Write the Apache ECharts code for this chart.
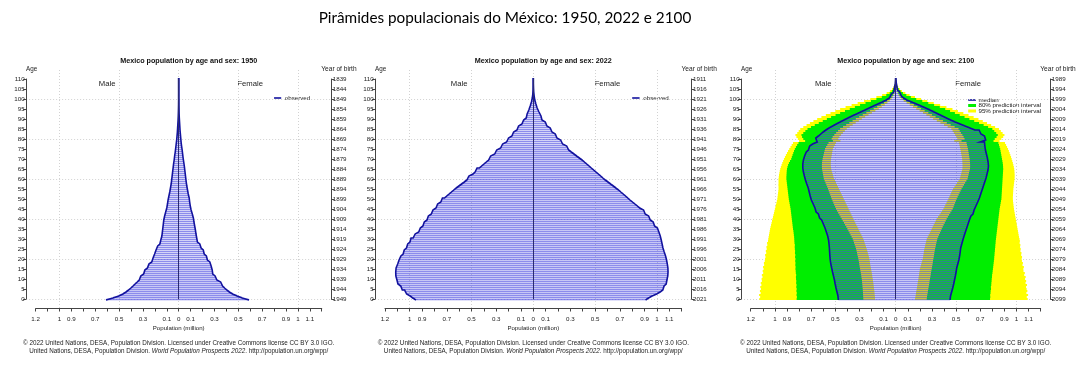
<!DOCTYPE html>
<html><head><meta charset="utf-8">
<script src="https://cdn.jsdelivr.net/npm/echarts@6/dist/echarts.min.js"></script>
<style>html,body{margin:0;padding:0;background:#fff}#c{width:1078px;height:367px}</style>
</head><body><div id="c"></div>
<script>
// ---------------- DATA (population in millions, ages 0..110) ----------------
const panelYears = [1950, 2022, 2100];
const xTickLabelTenths = [-12,-10,-9,-7,-5,-3,-1,0,1,3,5,7,9,10,11];

const male1950 = [
0.610,0.552,0.503,0.468,0.442,0.420,0.401,0.383,0.366,0.348,
0.331,0.318,0.305,0.294,0.284,0.274,0.262,0.250,0.238,0.226,
0.215,0.208,0.202,0.196,0.190,0.184,0.176,0.167,0.158,0.150,
0.144,0.141,0.139,0.137,0.135,0.133,0.131,0.129,0.127,0.125,
0.122,0.118,0.114,0.109,0.104,0.100,0.097,0.094,0.091,0.089,
0.086,0.082,0.078,0.075,0.072,0.069,0.066,0.063,0.061,0.059,
0.057,0.055,0.053,0.051,0.049,0.047,0.045,0.043,0.041,0.038,
0.036,0.034,0.032,0.029,0.027,0.025,0.023,0.021,0.019,0.017,
0.016,0.014,0.013,0.011,0.010,0.009,0.008,0.007,0.006,0.005,
0.004,0.0035,0.003,0.0025,0.002,0.0016,0.0013,0.001,0.0008,0.0006,
0.0005,0.0004,0.0003,0.0002,0.00015,0.0001,0.0001,0.00006,0.00004,0.00003,0.00002];
const female1950 = [
0.590,0.533,0.490,0.452,0.425,0.403,0.385,0.368,0.352,0.336,
0.320,0.305,0.293,0.286,0.281,0.277,0.272,0.267,0.261,0.251,
0.241,0.232,0.223,0.214,0.206,0.198,0.188,0.177,0.166,0.157,
0.151,0.148,0.145,0.142,0.140,0.137,0.134,0.131,0.128,0.126,
0.123,0.119,0.114,0.109,0.104,0.100,0.097,0.095,0.092,0.090,
0.088,0.084,0.080,0.077,0.074,0.071,0.068,0.065,0.063,0.061,
0.059,0.057,0.055,0.053,0.051,0.049,0.047,0.045,0.042,0.040,
0.037,0.035,0.033,0.031,0.029,0.026,0.024,0.022,0.020,0.018,
0.017,0.015,0.014,0.012,0.011,0.010,0.009,0.008,0.007,0.006,
0.005,0.0042,0.0035,0.003,0.0025,0.002,0.0016,0.0013,0.001,0.0008,
0.0006,0.0005,0.0004,0.0003,0.0002,0.00015,0.0001,0.00008,0.00006,0.00004,0.00003];

const male2022 = [
0.949,0.975,0.996,1.025,1.041,1.060,1.072,1.084,1.095,1.103,
1.109,1.112,1.114,1.113,1.112,1.110,1.104,1.097,1.091,1.086,
1.080,1.071,1.062,1.053,1.044,1.035,1.026,1.016,1.006,0.998,
0.989,0.972,0.956,0.940,0.927,0.914,0.903,0.893,0.882,0.871,
0.860,0.849,0.837,0.825,0.812,0.800,0.787,0.774,0.761,0.748,
0.735,0.718,0.700,0.681,0.662,0.643,0.623,0.602,0.580,0.558,
0.537,0.521,0.505,0.488,0.471,0.455,0.436,0.418,0.399,0.380,
0.361,0.345,0.329,0.312,0.296,0.280,0.264,0.248,0.232,0.216,
0.200,0.186,0.173,0.159,0.146,0.132,0.119,0.105,0.092,0.078,
0.065,0.057,0.050,0.043,0.036,0.030,0.025,0.020,0.015,0.011,
0.008,0.006,0.004,0.003,0.002,0.0015,0.001,0.0007,0.0005,0.0003,0.0002];
const female2022 = [
0.908,0.932,0.961,0.998,1.026,1.048,1.058,1.067,1.075,1.081,
1.086,1.088,1.090,1.090,1.089,1.089,1.087,1.084,1.081,1.078,
1.075,1.070,1.064,1.059,1.054,1.049,1.045,1.042,1.038,1.035,
1.032,1.027,1.021,1.016,1.010,1.004,0.993,0.981,0.970,0.958,
0.946,0.933,0.919,0.905,0.892,0.879,0.861,0.842,0.822,0.802,
0.782,0.764,0.746,0.727,0.708,0.690,0.668,0.647,0.625,0.604,
0.582,0.563,0.545,0.526,0.507,0.488,0.469,0.451,0.432,0.413,
0.394,0.372,0.350,0.329,0.307,0.286,0.270,0.254,0.237,0.221,
0.205,0.191,0.178,0.164,0.151,0.137,0.124,0.110,0.097,0.083,
0.070,0.062,0.054,0.046,0.038,0.031,0.026,0.021,0.016,0.012,
0.009,0.007,0.005,0.0035,0.0025,0.0018,0.0012,0.0008,0.0005,0.0003,0.0002];

const male2100 = [
0.475,0.478,0.482,0.486,0.490,0.494,0.497,0.501,0.504,0.507,
0.511,0.515,0.519,0.523,0.527,0.530,0.533,0.537,0.540,0.542,
0.544,0.545,0.546,0.547,0.548,0.549,0.550,0.552,0.554,0.556,
0.558,0.563,0.568,0.574,0.579,0.585,0.592,0.599,0.606,0.613,
0.620,0.630,0.640,0.649,0.659,0.668,0.676,0.683,0.691,0.698,
0.704,0.708,0.712,0.716,0.720,0.724,0.730,0.736,0.742,0.747,
0.752,0.756,0.760,0.764,0.767,0.769,0.770,0.769,0.767,0.764,
0.760,0.754,0.748,0.740,0.732,0.723,0.712,0.700,0.688,0.650,
0.662,0.655,0.640,0.620,0.600,0.578,0.552,0.522,0.492,0.460,
0.428,0.395,0.362,0.325,0.290,0.254,0.220,0.185,0.148,0.112,
0.078,0.052,0.036,0.025,0.016,0.011,0.007,0.004,0.0025,0.0015,0.001];
const male2100Lo80 = [
0.268,0.269,0.270,0.271,0.272,0.273,0.275,0.276,0.278,0.279,
0.281,0.284,0.286,0.289,0.292,0.295,0.298,0.301,0.303,0.306,
0.309,0.313,0.317,0.320,0.324,0.328,0.333,0.339,0.345,0.350,
0.356,0.365,0.374,0.382,0.391,0.400,0.409,0.419,0.428,0.438,
0.447,0.457,0.466,0.476,0.485,0.494,0.501,0.509,0.516,0.523,
0.530,0.536,0.542,0.548,0.554,0.560,0.567,0.574,0.581,0.588,
0.595,0.598,0.601,0.604,0.607,0.610,0.611,0.611,0.610,0.608,
0.605,0.601,0.597,0.593,0.589,0.585,0.576,0.566,0.556,0.520,
0.530,0.522,0.508,0.493,0.477,0.460,0.436,0.410,0.384,0.357,
0.330,0.302,0.273,0.243,0.212,0.182,0.153,0.124,0.096,0.072,
0.050,0.034,0.023,0.016,0.010,0.007,0.004,0.0025,0.0015,0.001,0.0006];
const male2100Lo95 = [
0.171,0.172,0.174,0.175,0.177,0.179,0.181,0.183,0.185,0.188,
0.190,0.193,0.195,0.198,0.201,0.204,0.207,0.210,0.213,0.215,
0.218,0.222,0.226,0.231,0.235,0.240,0.246,0.251,0.257,0.262,
0.268,0.276,0.284,0.293,0.301,0.309,0.317,0.326,0.334,0.342,
0.350,0.358,0.366,0.374,0.382,0.390,0.398,0.406,0.414,0.422,
0.430,0.438,0.446,0.454,0.462,0.470,0.478,0.486,0.494,0.502,
0.510,0.515,0.520,0.525,0.530,0.534,0.536,0.537,0.537,0.536,
0.535,0.532,0.529,0.526,0.523,0.520,0.512,0.503,0.494,0.458,
0.475,0.466,0.452,0.437,0.421,0.405,0.381,0.356,0.331,0.305,
0.280,0.253,0.225,0.197,0.168,0.140,0.115,0.090,0.068,0.050,
0.035,0.024,0.016,0.011,0.007,0.005,0.003,0.002,0.0012,0.0008,0.0004];
const male2100Hi80 = [
0.820,0.818,0.821,0.819,0.822,0.820,0.823,0.821,0.824,0.823,
0.825,0.826,0.824,0.827,0.828,0.830,0.829,0.831,0.830,0.832,
0.830,0.833,0.831,0.834,0.833,0.835,0.836,0.835,0.838,0.839,
0.840,0.841,0.843,0.845,0.847,0.850,0.852,0.854,0.856,0.858,
0.860,0.862,0.864,0.866,0.868,0.870,0.873,0.876,0.879,0.882,
0.885,0.887,0.889,0.891,0.893,0.895,0.897,0.899,0.901,0.903,
0.905,0.905,0.904,0.903,0.902,0.900,0.896,0.891,0.884,0.875,
0.865,0.860,0.854,0.848,0.842,0.835,0.826,0.816,0.805,0.750,
0.765,0.775,0.780,0.765,0.748,0.730,0.701,0.670,0.637,0.604,
0.570,0.535,0.498,0.460,0.420,0.380,0.338,0.295,0.250,0.205,
0.160,0.115,0.078,0.050,0.032,0.020,0.012,0.007,0.004,0.0025,0.0015];
const male2100Hi95 = [
1.129,1.122,1.131,1.118,1.124,1.116,1.121,1.112,1.117,1.108,
1.110,1.103,1.108,1.097,1.101,1.094,1.098,1.089,1.091,1.084,
1.082,1.078,1.081,1.072,1.075,1.068,1.070,1.063,1.065,1.057,
1.055,1.052,1.049,1.046,1.043,1.040,1.036,1.032,1.028,1.024,
1.020,1.016,1.012,1.008,1.004,1.000,0.996,0.992,0.988,0.984,
0.980,0.978,0.976,0.974,0.972,0.970,0.970,0.971,0.970,0.970,
0.970,0.968,0.966,0.963,0.960,0.956,0.951,0.945,0.939,0.932,
0.925,0.917,0.909,0.900,0.891,0.881,0.871,0.861,0.850,0.800,
0.810,0.822,0.830,0.815,0.803,0.790,0.765,0.738,0.710,0.681,
0.650,0.615,0.578,0.540,0.500,0.460,0.415,0.365,0.315,0.262,
0.210,0.160,0.112,0.075,0.048,0.030,0.018,0.010,0.006,0.004,0.003];

const female2100 = [
0.450,0.454,0.459,0.463,0.468,0.472,0.476,0.480,0.484,0.487,
0.491,0.494,0.497,0.500,0.502,0.505,0.509,0.514,0.518,0.523,
0.527,0.529,0.531,0.534,0.536,0.538,0.542,0.547,0.551,0.556,
0.560,0.566,0.571,0.577,0.582,0.588,0.593,0.599,0.604,0.610,
0.615,0.623,0.632,0.640,0.649,0.657,0.664,0.672,0.679,0.686,
0.693,0.698,0.704,0.709,0.715,0.720,0.726,0.731,0.737,0.742,
0.748,0.752,0.756,0.760,0.764,0.767,0.768,0.767,0.765,0.762,
0.759,0.755,0.751,0.747,0.743,0.740,0.738,0.737,0.735,0.700,
0.745,0.735,0.722,0.706,0.690,0.655,0.615,0.574,0.533,0.492,
0.455,0.420,0.386,0.352,0.318,0.284,0.248,0.210,0.172,0.132,
0.092,0.066,0.047,0.033,0.022,0.015,0.009,0.006,0.004,0.0025,0.0015];
const female2100Lo80 = [
0.257,0.259,0.262,0.265,0.267,0.270,0.273,0.276,0.279,0.281,
0.284,0.287,0.290,0.292,0.295,0.298,0.301,0.304,0.307,0.309,
0.312,0.315,0.318,0.320,0.323,0.326,0.330,0.333,0.337,0.341,
0.345,0.352,0.359,0.367,0.374,0.381,0.389,0.397,0.406,0.414,
0.422,0.432,0.442,0.452,0.462,0.472,0.479,0.485,0.492,0.498,
0.505,0.513,0.521,0.529,0.537,0.545,0.555,0.565,0.575,0.585,
0.595,0.599,0.603,0.607,0.611,0.615,0.616,0.616,0.615,0.614,
0.612,0.609,0.606,0.604,0.601,0.598,0.594,0.590,0.586,0.545,
0.570,0.562,0.552,0.540,0.530,0.520,0.488,0.455,0.423,0.391,
0.360,0.330,0.300,0.270,0.240,0.210,0.180,0.150,0.118,0.088,
0.060,0.043,0.030,0.021,0.014,0.009,0.006,0.004,0.0025,0.0015,0.001];
const female2100Lo95 = [
0.160,0.163,0.166,0.168,0.171,0.174,0.177,0.180,0.182,0.185,
0.188,0.190,0.193,0.195,0.198,0.200,0.205,0.210,0.214,0.219,
0.224,0.227,0.229,0.232,0.234,0.237,0.241,0.245,0.249,0.253,
0.257,0.265,0.273,0.282,0.290,0.298,0.306,0.314,0.323,0.331,
0.339,0.350,0.362,0.373,0.384,0.395,0.403,0.411,0.420,0.428,
0.436,0.444,0.452,0.459,0.467,0.475,0.486,0.497,0.508,0.519,
0.530,0.535,0.539,0.544,0.548,0.552,0.553,0.553,0.552,0.551,
0.550,0.547,0.544,0.541,0.538,0.535,0.531,0.527,0.523,0.485,
0.510,0.502,0.492,0.481,0.471,0.460,0.430,0.400,0.370,0.340,
0.310,0.282,0.254,0.226,0.198,0.170,0.143,0.116,0.090,0.066,
0.045,0.032,0.022,0.015,0.010,0.007,0.004,0.003,0.002,0.0012,0.0008];
const female2100Hi80 = [
0.781,0.783,0.782,0.785,0.786,0.789,0.788,0.791,0.792,0.794,
0.795,0.797,0.798,0.801,0.803,0.805,0.807,0.809,0.811,0.813,
0.815,0.816,0.818,0.819,0.821,0.822,0.824,0.825,0.827,0.828,
0.830,0.832,0.834,0.836,0.838,0.840,0.842,0.844,0.846,0.848,
0.850,0.852,0.854,0.856,0.858,0.860,0.863,0.866,0.869,0.872,
0.875,0.876,0.877,0.878,0.879,0.880,0.881,0.882,0.883,0.884,
0.885,0.886,0.887,0.888,0.889,0.890,0.889,0.888,0.886,0.883,
0.880,0.877,0.874,0.871,0.868,0.865,0.860,0.855,0.850,0.810,
0.820,0.835,0.845,0.832,0.816,0.800,0.765,0.728,0.690,0.650,
0.610,0.570,0.530,0.490,0.450,0.410,0.365,0.318,0.270,0.220,
0.170,0.125,0.088,0.060,0.040,0.025,0.015,0.009,0.005,0.003,0.002];
const female2100Hi95 = [
1.093,1.085,1.096,1.082,1.090,1.084,1.079,1.087,1.075,1.080,
1.071,1.076,1.064,1.069,1.058,1.057,1.061,1.050,1.053,1.045,
1.043,1.046,1.039,1.041,1.033,1.035,1.030,1.032,1.026,1.028,
1.025,1.021,1.018,1.015,1.012,1.009,1.006,1.003,1.000,0.997,
0.994,0.991,0.988,0.985,0.982,0.979,0.977,0.975,0.973,0.971,
0.970,0.970,0.971,0.972,0.973,0.974,0.976,0.978,0.980,0.982,
0.984,0.985,0.985,0.984,0.983,0.981,0.978,0.974,0.970,0.965,
0.960,0.955,0.949,0.943,0.937,0.930,0.922,0.914,0.905,0.860,
0.875,0.890,0.900,0.885,0.870,0.855,0.823,0.790,0.756,0.721,
0.685,0.645,0.603,0.560,0.515,0.470,0.420,0.368,0.315,0.262,
0.210,0.160,0.115,0.080,0.052,0.034,0.021,0.013,0.008,0.005,0.003];

// ---------------- LAYOUT ----------------
const FONT = "'Liberation Sans', Arial, sans-serif";
const TXT = '#222';
const LINE_BLUE = '#12129e';
const BAR_FILL = 'rgba(70,70,225,0.62)';
const YELLOW = '#ffff00';
const GREEN = '#00ee00';
const layout = [ {Z:178.7, P:119.2}, {Z:533.3, P:123.6}, {Z:895.7, P:120.8} ];
const AGE_TOP = 79, AGE_H = 220;

const panelData = [
  {male: male1950, female: female1950},
  {male: male2022, female: female2022},
  {male: male2100, female: female2100,
   mLo80: male2100Lo80, mHi80: male2100Hi80, mLo95: male2100Lo95, mHi95: male2100Hi95,
   fLo80: female2100Lo80, fHi80: female2100Hi80, fLo95: female2100Lo95, fHi95: female2100Hi95}
];

function barItem(color){
  return function(params, api){
    const a = api.value(0);
    const p0 = api.coord([api.value(1), a]);
    const p1 = api.coord([api.value(2), a]);
    return {type:'rect', shape:{x:Math.min(p0[0],p1[0]), y:Math.round(p0[1]) - 0.2,
      width:Math.abs(p1[0]-p0[0]), height:1.4}, style:{fill:color}};
  };
}
function bandItem(color){
  return function(params, api){
    const a = api.value(0);
    const lo = api.value(1), hi = api.value(2);
    const pTop = api.coord([lo, a + 0.5]);
    const pBot = api.coord([hi, a - 0.5]);
    return {type:'rect', shape:{x:Math.min(pTop[0],pBot[0]), y:pTop[1],
      width:Math.abs(pBot[0]-pTop[0]), height:pBot[1]-pTop[1]}, style:{fill:color}};
  };
}
function stepPoints(arr, sign){
  const pts = [];
  arr.forEach((v, a) => { pts.push([sign*v, a-0.5]); pts.push([sign*v, a+0.5]); });
  return pts;
}

const grids = [], xAxes = [], yAxes = [], series = [], graphics = [];
const gridBase = {containLabel:false, outerBoundsMode:'none', show:false};
const small = {fontSize:6.2, color:TXT, fontFamily:FONT};

layout.forEach((L, p) => {
  const Z = L.Z, P = L.P;
  const Lx = Z - 1.28*P, Rx = Z + 1.28*P;
  const g = 4*p, yb = 6*p;
  const year = panelYears[p];
  grids.push(Object.assign({left:Lx, top:AGE_TOP, width:Rx-Lx, height:AGE_H}, gridBase));
  grids.push(Object.assign({left:Z-P, top:70, width:2*P, height:238}, gridBase));
  grids.push(Object.assign({left:Lx, top:AGE_TOP+20, width:Rx-Lx, height:200}, gridBase));
  grids.push(Object.assign({left:Z-1.2*P, top:307.5, width:2.4*P, height:1}, gridBase));

  xAxes.push({gridIndex:g, type:'value', min:-1.28, max:1.28, show:false});
  xAxes.push({gridIndex:g+1, type:'value', min:-1, max:1, interval:0.5,
    axisLine:{show:false}, axisTick:{show:false}, axisLabel:{show:false},
    splitLine:{show:true, lineStyle:{color:'#d2d2d2', type:[1,2], width:1}}});
  xAxes.push({gridIndex:g+2, type:'value', min:-1, max:1, show:false});
  xAxes.push({gridIndex:g+3, type:'value', min:-1.2, max:1.2, interval:0.1, position:'bottom',
    axisLine:{show:true, onZero:false, lineStyle:{color:'#444', width:1}},
    axisTick:{show:true, length:3, inside:false, lineStyle:{color:'#444', width:1}},
    axisLabel:Object.assign({margin:8, formatter:function(v){
      const k = Math.round(v*10);
      return xTickLabelTenths.indexOf(k) >= 0 ? String(Math.abs(k)/10) : '';
    }}, small),
    splitLine:{show:false}});

  yAxes.push({gridIndex:g, type:'value', min:0, max:110, interval:5, position:'left',
    axisLine:{show:true, onZero:false, lineStyle:{color:'#444', width:1}},
    axisTick:{show:true, length:3, lineStyle:{color:'#444'}},
    axisLabel:Object.assign({margin:1.5}, small), splitLine:{show:false}});
  yAxes.push({gridIndex:g, type:'value', min:0, max:110, interval:5, position:'right',
    axisLine:{show:true, onZero:false, lineStyle:{color:'#444', width:1}},
    axisTick:{show:true, length:3, lineStyle:{color:'#444'}},
    axisLabel:Object.assign({margin:1.5, formatter:function(v){ return String(year - 1 - v); }}, small),
    splitLine:{show:false}});
  yAxes.push({gridIndex:g, type:'value', min:0, max:110, position:'left', z:5,
    axisLine:{show:true, onZero:true, lineStyle:{color:'#2a2a70', width:1}},
    axisTick:{show:false}, axisLabel:{show:false}, splitLine:{show:false}});
  yAxes.push({gridIndex:g+1, type:'value', min:0, max:1, show:false});
  yAxes.push({gridIndex:g+2, type:'value', min:0, max:100, interval:20,
    axisLine:{show:false}, axisTick:{show:false}, axisLabel:{show:false},
    splitLine:{show:true, lineStyle:{color:'#d2d2d2', type:[1,2], width:1}}});
  yAxes.push({gridIndex:g+3, type:'value', min:0, max:1, show:false});

  const d = panelData[p];
  const base = {xAxisIndex:g, yAxisIndex:yb, silent:true, animation:false};
  if (d.mLo95) {
    series.push(Object.assign({type:'custom', name:'95% prediction interval', renderItem:bandItem(YELLOW),
      encode:{x:[1,2], y:0},
      data: d.mLo95.map((v,a)=>[a, -d.mHi95[a], -v]).concat(d.fLo95.map((v,a)=>[a, v, d.fHi95[a]]))}, base));
    series.push(Object.assign({type:'custom', name:'80% prediction interval', renderItem:bandItem(GREEN),
      encode:{x:[1,2], y:0},
      data: d.mLo80.map((v,a)=>[a, -d.mHi80[a], -v]).concat(d.fLo80.map((v,a)=>[a, v, d.fHi80[a]]))}, base));
  }
  series.push(Object.assign({type:'custom', name:'bars', renderItem:barItem(BAR_FILL),
    encode:{x:[1,2], y:0},
    data: d.male.map((v,a)=>[a, -v, 0]).concat(d.female.map((v,a)=>[a, 0, v]))}, base));
  const lineName = d.mLo95 ? 'median' : 'observed';
  [[d.male,-1],[d.female,1]].forEach(([arr, s]) => {
    series.push(Object.assign({type:'line', name:lineName, data:stepPoints(arr, s),
      showSymbol:false, symbol:'none', clip:false, z:4,
      lineStyle:{color:LINE_BLUE, width:1.6, join:'miter', cap:'butt'}}, base));
  });

  const t = (x, y, text, extra) => graphics.push({type:'text', x:x, y:y, silent:true,
    style:Object.assign({text:text, fontSize:6.2, fontFamily:FONT, fill:TXT, align:'center', verticalAlign:'middle'}, extra||{})});
  t(Z+10, 61, 'Mexico population by age and sex: ' + year, {fontWeight:'bold', fontSize:7.2, fill:'#111'});
  t(Lx, 69, 'Age', {align:'left', fontSize:6.3});
  t(Rx-10, 69, 'Year of birth', {align:'left', fontSize:6.6});
  t(Z-0.6*P, 84, 'Male', {fontSize:7.7});
  t(Z+0.6*P, 84, 'Female', {fontSize:7.7});
  t(Z, 328.5, 'Population (million)', {fontSize:6.1});
  t(Z, 343, '\u00a9 2022 United Nations, DESA, Population Division. Licensed under Creative Commons license CC BY 3.0 IGO.', {fontSize:6.3});
  graphics.push({type:'text', x:Z, y:351, silent:true, style:{
    text:'{n|United Nations, DESA, Population Division. }{i|World Population Prospects 2022}{n|. http://population.un.org/wpp/}',
    align:'center', verticalAlign:'middle', fontSize:6.3, fontFamily:FONT, fill:TXT,
    rich:{n:{fontSize:6.3, fontFamily:FONT, fill:TXT}, i:{fontSize:6.3, fontFamily:FONT, fill:TXT, fontStyle:'italic'}}}});
  const ln = (x1, x2, y, color, w) => graphics.push({type:'line', silent:true,
    shape:{x1:x1, y1:y, x2:x2, y2:y}, style:{stroke:color, lineWidth:w}});
  if (d.mLo95) {
    ln(Z+0.6*P, Z+0.665*P, 100, LINE_BLUE, 1.6);
    ln(Z+0.6*P, Z+0.665*P, 105.5, GREEN, 3);
    ln(Z+0.6*P, Z+0.665*P, 111, YELLOW, 3);
    t(Z+0.685*P, 100, 'median', {align:'left'});
    t(Z+0.685*P, 105.5, '80% prediction interval', {align:'left'});
    t(Z+0.685*P, 111, '95% prediction interval', {align:'left'});
  } else {
    ln(Z+0.8*P, Z+0.86*P, 98, LINE_BLUE, 1.6);
    t(Z+0.89*P, 98, 'observed', {align:'left'});
  }
});

graphics.push({type:'text', x:505, y:18, silent:true, style:{
  text:'Pir\u00e2mides populacionais do M\u00e9xico: 1950, 2022 e 2100',
  fontSize:15.3, fontFamily:"Lato, 'Open Sans', sans-serif", fill:'#000',
  align:'center', verticalAlign:'middle'}});

const chart = echarts.init(document.getElementById('c'), null, {renderer:'canvas'});
chart.setOption({
  animation:false,
  backgroundColor:'#ffffff',
  grid:grids, xAxis:xAxes, yAxis:yAxes, series:series, graphic:graphics
});
</script></body></html>
